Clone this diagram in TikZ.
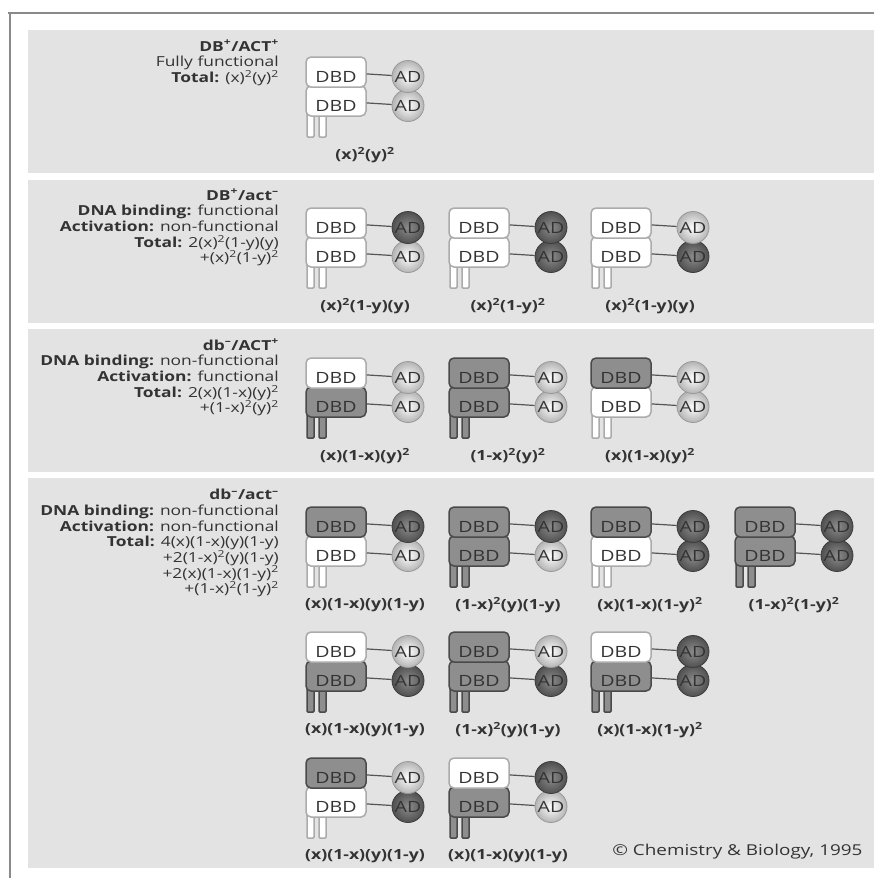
\documentclass[tikz,border=0pt]{standalone}
\usepackage{fontspec}
\setmainfont{Open Sans}[FakeStretch=1.26]

\definecolor{panel}{HTML}{E3E3E3}
\definecolor{txt}{HTML}{333333}
\definecolor{wtline}{HTML}{ABABAB}
\definecolor{mutfill}{HTML}{8E8E8E}
\definecolor{mutline}{HTML}{4A4A4A}
\definecolor{adplus}{HTML}{B4B4B4}
\definecolor{adplusline}{HTML}{999999}
\definecolor{admid}{HTML}{8C8C8C}
\definecolor{adminus}{HTML}{505050}
\definecolor{adminusline}{HTML}{3C3C3C}
\definecolor{linkc}{HTML}{555555}
\definecolor{framec}{HTML}{8A8A8A}

\tikzset{
  dbd/.style={rounded corners=5pt, minimum width=60pt, minimum height=30pt,
    inner sep=0pt, text height=21pt, text depth=0pt, line width=1.5pt,
    font=\fontsize{15.5}{15.5}\selectfont},
  wt/.style={fill=white, draw=wtline, text=txt},
  mut/.style={fill=mutfill, draw=mutline, text=txt},
  ad/.style={circle, minimum size=32pt, inner sep=0pt, line width=0.8pt,
    font=\fontsize{15.5}{15.5}\selectfont},
  adp/.style={inner color=white, outer color=adplus, draw=adplusline, text=txt},
  adm/.style={inner color=admid, outer color=adminus, draw=adminusline, text=txt},
  spoj/.style={draw=linkc, line width=1.2pt},
  popis/.style={font=\bfseries\fontsize{14}{15}\selectfont, text=txt},
  hlavicka/.style={anchor=north east, align=right, inner sep=0pt, text=txt,
    font=\fontsize{13.8}{15.7}\selectfont},
  ramec/.style={draw=framec, line width=1.4pt},
}

% dimer: #1 jmeno, #2 x, #3 y, #4 horni DBD, #5 horni AD, #6 dolni DBD, #7 dolni AD, #8 popis
\newcommand{\dimer}[8]{%
  \draw[#6, line width=1.5pt, rounded corners=1pt] (#2+1,#3+55) rectangle (#2+8,#3+80);
  \draw[#6, line width=1.5pt, rounded corners=1pt] (#2+13,#3+55) rectangle (#2+20,#3+80);
  \node[dbd, #6] (#1l) at (#2+30,#3+44) {DBD};
  \node[dbd, #4] (#1u) at (#2+30,#3+15) {DBD};
  \node[ad, #7] (#1al) at (#2+102,#3+48.5) {AD};
  \node[ad, #5] (#1au) at (#2+102,#3+19.5) {AD};
  \draw[spoj] (#1u) -- (#1au);
  \draw[spoj] (#1l) -- (#1al);
  \node[popis] (#1p) at (#2+59,#3+98) {#8};
}

\begin{document}
\begin{tikzpicture}[x=1pt, y=-1pt]
  \useasboundingbox (0,0) rectangle (874,878);

  % ramecek a pasy
  \draw[ramec] (8,13) -- (874,13);
  \draw[ramec] (10,13) -- (10,878);
  \fill[panel] (28,30) rectangle (874,173);
  \fill[panel] (28,180) rectangle (874,323);
  \fill[panel] (28,329) rectangle (874,472);
  \fill[panel] (28,478) rectangle (874,868);

  % DB+/ACT+
  \node[hlavicka] (h1) at (279,40) {\textbf{DB\textsuperscript{+}/ACT\textsuperscript{+}}\\
    Fully functional\\
    \textbf{Total:} (x)\textsuperscript{2}(y)\textsuperscript{2}};
  \dimer{a}{306}{57}{wt}{adp}{wt}{adp}{(x)\textsuperscript{2}(y)\textsuperscript{2}}

  % DB+/act-
  \node[hlavicka] (h2) at (279,189) {\textbf{DB\textsuperscript{+}/act\textsuperscript{–}}\\
    \textbf{DNA binding:} functional\\
    \textbf{Activation:} non-functional\\
    \textbf{Total:} 2(x)\textsuperscript{2}(1-y)(y)\\
    +(x)\textsuperscript{2}(1-y)\textsuperscript{2}};
  \dimer{b}{306}{208}{wt}{adm}{wt}{adp}{(x)\textsuperscript{2}(1-y)(y)}
  \dimer{c}{449}{208}{wt}{adm}{wt}{adm}{(x)\textsuperscript{2}(1-y)\textsuperscript{2}}
  \dimer{d}{591}{208}{wt}{adp}{wt}{adm}{(x)\textsuperscript{2}(1-y)(y)}

  % db-/ACT+
  \node[hlavicka] (h3) at (279,339) {\textbf{db\textsuperscript{–}/ACT\textsuperscript{+}}\\
    \textbf{DNA binding:} non-functional\\
    \textbf{Activation:} functional\\
    \textbf{Total:} 2(x)(1-x)(y)\textsuperscript{2}\\
    +(1-x)\textsuperscript{2}(y)\textsuperscript{2}};
  \dimer{e}{306}{358}{wt}{adp}{mut}{adp}{(x)(1-x)(y)\textsuperscript{2}}
  \dimer{f}{449}{358}{mut}{adp}{mut}{adp}{(1-x)\textsuperscript{2}(y)\textsuperscript{2}}
  \dimer{g}{591}{358}{mut}{adp}{wt}{adp}{(x)(1-x)(y)\textsuperscript{2}}

  % db-/act-
  \node[hlavicka] (h4) at (279,489) {\textbf{db\textsuperscript{–}/act\textsuperscript{–}}\\
    \textbf{DNA binding:} non-functional\\
    \textbf{Activation:} non-functional\\
    \textbf{Total:} 4(x)(1-x)(y)(1-y)\\
    +2(1-x)\textsuperscript{2}(y)(1-y)\\
    +2(x)(1-x)(1-y)\textsuperscript{2}\\
    +(1-x)\textsuperscript{2}(1-y)\textsuperscript{2}};
  \dimer{h}{306}{507}{mut}{adm}{wt}{adp}{(x)(1-x)(y)(1-y)}
  \dimer{i}{449}{507}{mut}{adm}{mut}{adp}{(1-x)\textsuperscript{2}(y)(1-y)}
  \dimer{j}{591}{507}{mut}{adm}{wt}{adm}{(x)(1-x)(1-y)\textsuperscript{2}}
  \dimer{k}{735}{507}{mut}{adm}{mut}{adm}{(1-x)\textsuperscript{2}(1-y)\textsuperscript{2}}
  \dimer{m}{306}{632}{wt}{adp}{mut}{adm}{(x)(1-x)(y)(1-y)}
  \dimer{n}{449}{632}{mut}{adp}{mut}{adm}{(1-x)\textsuperscript{2}(y)(1-y)}
  \dimer{o}{591}{632}{wt}{adm}{mut}{adm}{(x)(1-x)(1-y)\textsuperscript{2}}
  \dimer{q}{306}{758}{mut}{adp}{wt}{adm}{(x)(1-x)(y)(1-y)}
  \dimer{r}{449}{758}{wt}{adm}{mut}{adp}{(x)(1-x)(y)(1-y)}

  \node[anchor=east, text=txt, font=\fontsize{15}{15}\selectfont] (zdroj) at (866,852)
    {© Chemistry \& Biology, 1995};
\end{tikzpicture}
\end{document}
